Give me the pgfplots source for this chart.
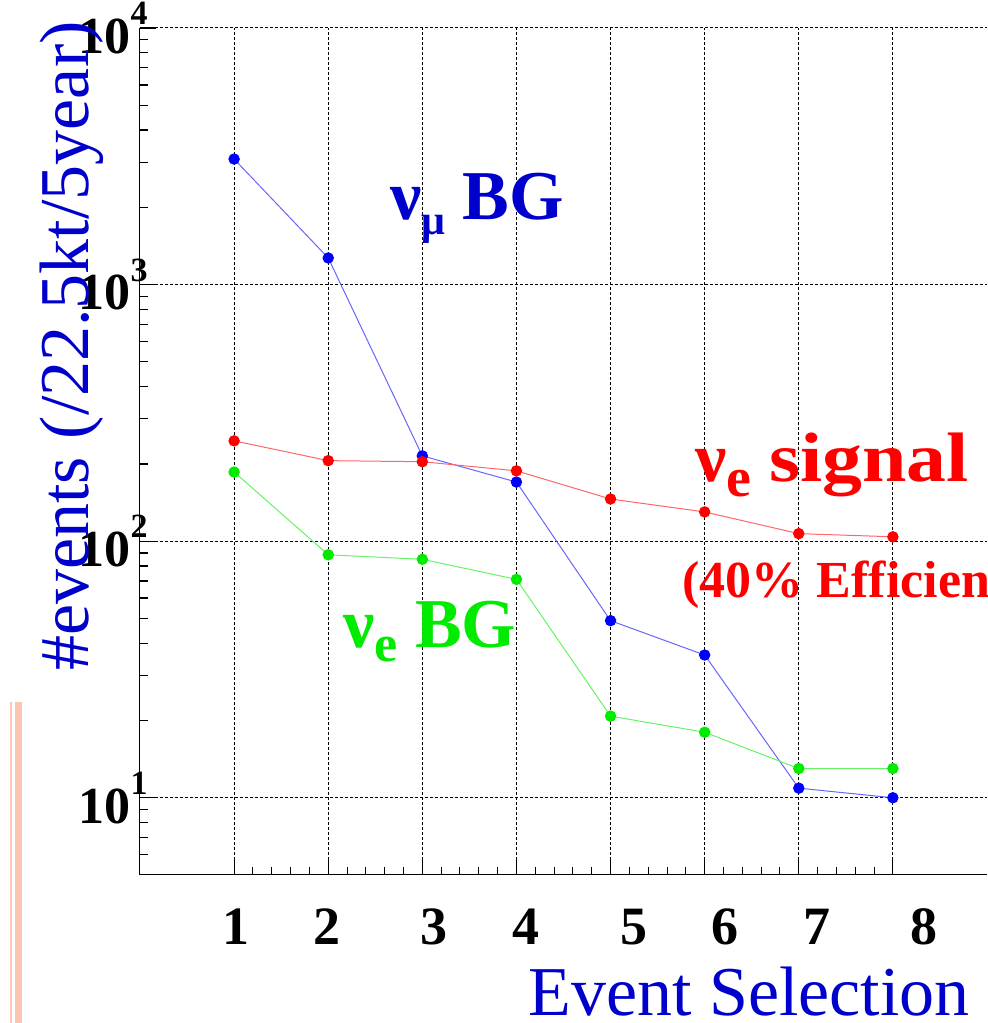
\documentclass[border=0pt]{standalone}
\usepackage{pgfplots}
\pgfplotsset{compat=1.18}
\usepackage{fontspec}
\setmainfont{Liberation Serif}
\newfontfamily\widefont[FakeStretch=1.14]{Liberation Serif}

\definecolor{lblblue}{RGB}{0,0,204}
\definecolor{sigred}{RGB}{255,0,0}
\definecolor{bggreen}{RGB}{0,235,0}
\definecolor{ptblue}{RGB}{0,0,255}
\definecolor{pinkline}{RGB}{255,196,178}

% shift a tick label sideways without changing its width
\newcommand{\sh}[2]{\hspace*{#1}#2\hspace*{-#1}}
\newcommand{\xtickfont}{\fontsize{27}{30}\selectfont\bfseries}
\newcommand{\ytickfont}{\fontsize{26}{30}\selectfont\bfseries}
\newcommand{\labfont}{\fontsize{35}{40}\selectfont}
\newcommand{\annfont}{\fontsize{35}{40}\selectfont\bfseries}
\newcommand{\e}[1]{\textbf{10}\raisebox{0.55em}{\fontsize{17}{20}\selectfont\bfseries #1}}

\begin{document}
\begin{tikzpicture}
\useasboundingbox (-70pt,-74pt) rectangle (423.5pt,437.5pt);

\fill[pinkline] (-65pt,-74pt) rectangle (-64pt,86.5pt);
\fill[pinkline] (-62.5pt,-74pt) rectangle (-59pt,86.5pt);

\begin{axis}[
    name=ax, at={(0,0)}, anchor=south west,
    scale only axis, width=423.5pt, height=423.5pt,
    xmin=0, xmax=9,
    ymode=log, ymin=5, ymax=10000,
    axis lines=left,
    axis line style={black, line width=0.5pt, -},
    xtick={1,2,3,4,5,6,7,8},
    minor x tick num=4,
    ytick={10,100,1000,10000},
    minor ytick={6,7,8,9,20,30,40,50,60,70,80,90,200,300,400,500,600,700,800,900,2000,3000,4000,5000,6000,7000,8000,9000},
    tick align=inside,
    major tick length=8pt, minor tick length=4pt,
    xtick style={black, line width=0.5pt},
    ytick style={black, line width=0.6pt},
    grid=major,
    grid style={black, line width=0.5pt, dash pattern=on 1.5pt off 1pt},
    xticklabels={\sh{1pt}{1},\sh{-0.5pt}{2},\sh{6pt}{3},\sh{5pt}{4},\sh{11.5pt}{5},\sh{10pt}{6},\sh{9pt}{7},\sh{15.5pt}{8}},
    yticklabels={\e{1},\e{2},\e{3},\e{4}},
    xticklabel style={anchor=base, yshift=-35pt, font=\xtickfont},
    yticklabel style={anchor=east, inner sep=0pt, xshift=4pt, font=\ytickfont},
    clip=false,
]
% nu_mu background
\addplot[ptblue!60!white, line width=0.5pt, mark=*, mark size=2.6pt,
    mark options={solid, draw=ptblue, fill=ptblue}]
    coordinates {
    (1,3085) (2,1270) (3,215) (4,170) (5,49) (6,36) (7,10.9) (8,10)
    };
% nu_e signal
\addplot[sigred!60!white, line width=0.5pt, mark=*, mark size=2.6pt,
    mark options={solid, draw=sigred, fill=sigred}]
    coordinates {
    (1,246) (2,206) (3,204) (4,188) (5,146) (6,130) (7,107) (8,104)
    };
% nu_e background
\addplot[bggreen!60!white, line width=0.5pt, mark=*, mark size=2.6pt,
    mark options={solid, draw=bggreen, fill=bggreen}]
    coordinates {
    (1,186) (2,88.5) (3,85) (4,71) (5,20.8) (6,18) (7,13) (8,13)
    };
\end{axis}

\node[rotate=90, anchor=base, text=lblblue, font=\labfont, inner sep=0pt]
    at (-26pt,264.5pt) {\#events (/22.5kt/5year)};
\node[anchor=base east, text=lblblue, font=\labfont, inner sep=0pt]
    at (415pt,-70pt) {Event Selection};

\node[anchor=base west, text=lblblue, font=\annfont, inner sep=0pt]
    at (125pt,327.5pt) {ν\raisebox{-7.5pt}{\fontsize{21}{24}\selectfont μ} BG};
\node[anchor=base west, text=sigred, font=\annfont, inner sep=0pt]
    at (277.5pt,196.5pt) {ν\raisebox{-7.5pt}{\fontsize{28}{30}\selectfont e} {\widefont\bfseries signal}};
\node[anchor=base west, text=sigred, font=\fontsize{26}{30}\selectfont\bfseries, inner sep=0pt]
    at (271pt,138.5pt) {(40\% Efficiency)};
\node[anchor=base west, text=bggreen, font=\annfont, inner sep=0pt]
    at (101.5pt,113.5pt) {ν\raisebox{-7pt}{\fontsize{26}{30}\selectfont e} BG};
\end{tikzpicture}
\end{document}
